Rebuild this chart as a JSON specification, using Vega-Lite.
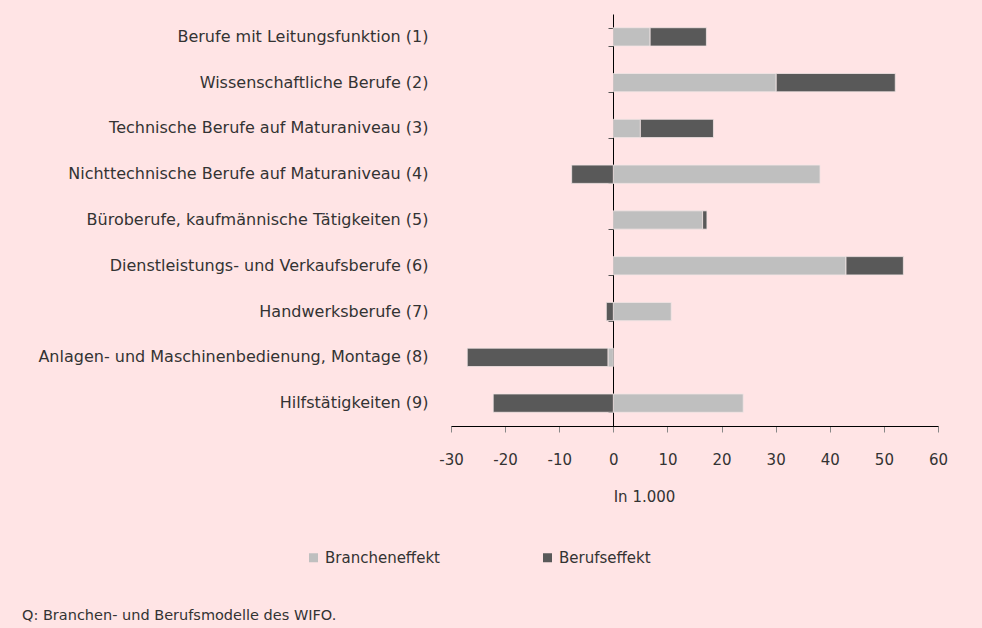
{
  "$schema": "https://vega.github.io/schema/vega-lite/v6.json",
  "width": 487,
  "height": 412,
  "autosize": {"type": "none"},
  "padding": {"left": 451, "top": 14, "right": 44, "bottom": 202},
  "background": "#ffe4e5",
  "config": {"view": {"stroke": null}, "font": "DejaVu Sans"},
  "title": {
    "text": "Q: Branchen- und Berufsmodelle des WIFO.",
    "orient": "bottom",
    "anchor": "start",
    "frame": "group",
    "dx": -429,
    "offset": 43,
    "fontSize": 14.5,
    "fontWeight": "normal",
    "color": "#333333"
  },
  "data": {
    "values": [
      {"Beruf": "Berufe mit Leitungsfunktion (1)", "Effekt": "Brancheneffekt", "Reihenfolge": 1, "Wert": 6.8},
      {"Beruf": "Berufe mit Leitungsfunktion (1)", "Effekt": "Berufseffekt", "Reihenfolge": 2, "Wert": 10.4},
      {"Beruf": "Wissenschaftliche Berufe (2)", "Effekt": "Brancheneffekt", "Reihenfolge": 1, "Wert": 30.1},
      {"Beruf": "Wissenschaftliche Berufe (2)", "Effekt": "Berufseffekt", "Reihenfolge": 2, "Wert": 22.0},
      {"Beruf": "Technische Berufe auf Maturaniveau (3)", "Effekt": "Brancheneffekt", "Reihenfolge": 1, "Wert": 5.0},
      {"Beruf": "Technische Berufe auf Maturaniveau (3)", "Effekt": "Berufseffekt", "Reihenfolge": 2, "Wert": 13.5},
      {"Beruf": "Nichttechnische Berufe auf Maturaniveau (4)", "Effekt": "Brancheneffekt", "Reihenfolge": 1, "Wert": 38.2},
      {"Beruf": "Nichttechnische Berufe auf Maturaniveau (4)", "Effekt": "Berufseffekt", "Reihenfolge": 2, "Wert": -7.7},
      {"Beruf": "Büroberufe, kaufmännische Tätigkeiten (5)", "Effekt": "Brancheneffekt", "Reihenfolge": 1, "Wert": 16.5},
      {"Beruf": "Büroberufe, kaufmännische Tätigkeiten (5)", "Effekt": "Berufseffekt", "Reihenfolge": 2, "Wert": 0.8},
      {"Beruf": "Dienstleistungs- und Verkaufsberufe (6)", "Effekt": "Brancheneffekt", "Reihenfolge": 1, "Wert": 43.0},
      {"Beruf": "Dienstleistungs- und Verkaufsberufe (6)", "Effekt": "Berufseffekt", "Reihenfolge": 2, "Wert": 10.6},
      {"Beruf": "Handwerksberufe (7)", "Effekt": "Brancheneffekt", "Reihenfolge": 1, "Wert": 10.7},
      {"Beruf": "Handwerksberufe (7)", "Effekt": "Berufseffekt", "Reihenfolge": 2, "Wert": -1.3},
      {"Beruf": "Anlagen- und Maschinenbedienung, Montage (8)", "Effekt": "Brancheneffekt", "Reihenfolge": 1, "Wert": -1.0},
      {"Beruf": "Anlagen- und Maschinenbedienung, Montage (8)", "Effekt": "Berufseffekt", "Reihenfolge": 2, "Wert": -26.0},
      {"Beruf": "Hilfstätigkeiten (9)", "Effekt": "Brancheneffekt", "Reihenfolge": 1, "Wert": 24.0},
      {"Beruf": "Hilfstätigkeiten (9)", "Effekt": "Berufseffekt", "Reihenfolge": 2, "Wert": -22.2}
    ]
  },
  "layer": [
    {
      "mark": {"type": "bar", "stroke": "#f2e6e6", "strokeWidth": 0.8},
      "encoding": {
        "y": {
          "field": "Beruf",
          "type": "nominal",
          "sort": null,
          "scale": {"paddingInner": 0.6, "paddingOuter": 0.3},
          "axis": {
            "title": null,
            "domain": false,
            "ticks": false,
            "labelFontSize": 16,
            "labelColor": "#333333",
            "labelPadding": 23,
            "labelLimit": 600
          }
        },
        "x": {
          "field": "Wert",
          "type": "quantitative",
          "stack": "zero",
          "scale": {"domain": [-30, 60], "nice": false},
          "axis": {
            "values": [-30, -20, -10, 0, 10, 20, 30, 40, 50, 60],
            "labelExpr": "'' + datum.value",
            "labelFlush": false,
            "labelOverlap": false,
            "grid": false,
            "title": "In 1.000",
            "titleFontSize": 15,
            "titleFontWeight": "normal",
            "titleColor": "#333333",
            "titleX": 193,
            "titleAlign": "center",
            "titlePadding": 22,
            "tickSize": 6,
            "tickColor": "#888888",
            "domainColor": "#000000",
            "labelFontSize": 15,
            "labelColor": "#333333",
            "labelPadding": 20
          }
        },
        "color": {
          "field": "Effekt",
          "type": "nominal",
          "scale": {"domain": ["Brancheneffekt", "Berufseffekt"], "range": ["#bfbfbf", "#595959"]},
          "legend": {
            "orient": "none",
            "legendX": -145,
            "legendY": 536,
            "direction": "horizontal",
            "title": null,
            "symbolType": "square",
            "symbolSize": 81,
            "symbolStrokeWidth": 0,
            "labelFontSize": 15,
            "labelColor": "#333333",
            "labelOffset": 4,
            "columnPadding": 99
          }
        },
        "order": {"field": "Reihenfolge", "type": "quantitative"}
      }
    },
    {
      "mark": {"type": "bar", "opacity": 0},
      "encoding": {
        "y": {
          "field": "Beruf",
          "type": "nominal",
          "sort": null,
          "axis": {
            "orient": "left",
            "offset": -162,
            "labels": false,
            "title": null,
            "domain": true,
            "domainColor": "#000000",
            "ticks": true,
            "tickBand": "extent",
            "tickSize": 5,
            "tickColor": "#555555"
          }
        },
        "x": {
          "field": "Wert",
          "type": "quantitative",
          "stack": "zero",
          "axis": {
            "values": [-30, -20, -10, 0, 10, 20, 30, 40, 50, 60],
            "labelExpr": "'' + datum.value",
            "labelFlush": false,
            "labelOverlap": false,
            "grid": false,
            "title": "In 1.000",
            "titleFontSize": 15,
            "titleFontWeight": "normal",
            "titleColor": "#333333",
            "titleX": 193,
            "titleAlign": "center",
            "titlePadding": 22,
            "tickSize": 6,
            "tickColor": "#888888",
            "domainColor": "#000000",
            "labelFontSize": 15,
            "labelColor": "#333333",
            "labelPadding": 20
          }
        },
        "order": {"field": "Reihenfolge", "type": "quantitative"}
      }
    }
  ],
  "resolve": {"axis": {"y": "independent"}}
}
